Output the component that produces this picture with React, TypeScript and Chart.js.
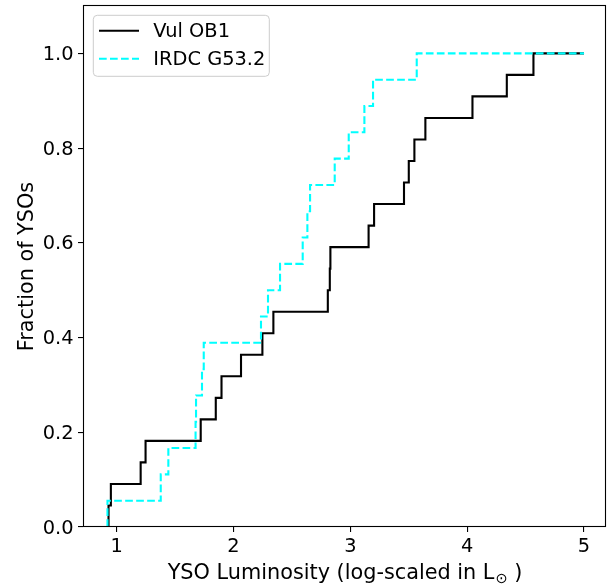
import React, { useEffect, useRef } from 'react';
import { Chart, registerables } from 'chart.js';

Chart.register(...registerables);

// Sorted YSO luminosities (log L/Lsun) for each region; each one adds a step of 1/N.
const VUL_OB1_LUM = [
  0.93, 0.95, 1.205, 1.247, 1.719, 1.848, 1.897, 2.064, 2.247, 2.341, 2.807,
  2.824, 2.829, 3.156, 3.203, 3.459, 3.5, 3.548, 3.642, 4.045, 4.339, 4.567,
];
const IRDC_G532_LUM = [
  0.921, 1.377, 1.442, 1.675, 1.679, 1.73, 1.745, 2.235, 2.295, 2.398, 2.592,
  2.632, 2.655, 2.866, 2.986, 3.12, 3.194, 3.568,
];
const X_END = 5;
const X_TICKS = [1, 2, 3, 4, 5];
const Y_TICKS = [0, 0.2, 0.4, 0.6, 0.8, 1.0];
const SERIES_LABELS = ['Vul OB1', 'IRDC G53.2'];
const SERIES_COLORS = ['#000000', '#00ffff'];

const FAMILY = '"DejaVu Sans", sans-serif';
const FS = 19.4;
const TITLE_FS = 20.8;
const LW = 2.1;
const DASH = [7.7, 3.3];

// Empirical cumulative distribution as step vertices.
function cdfPoints(values: number[], end: number) {
  const n = values.length;
  const pts: { x: number; y: number }[] = [{ x: values[0], y: 0 }];
  values.forEach((v, i) => pts.push({ x: v, y: (i + 1) / n }));
  pts.push({ x: end, y: 1 });
  return pts;
}

function zeroPadding(scale: any) {
  scale.paddingTop = 0;
  scale.paddingBottom = 0;
  scale.paddingLeft = 0;
  scale.paddingRight = 0;
}

const decorations = {
  id: 'decorations',
  afterDraw(chart: any) {
    const { ctx, chartArea: a } = chart;
    ctx.save();

    // full box frame
    ctx.strokeStyle = '#000';
    ctx.lineWidth = 1.1;
    ctx.setLineDash([]);
    ctx.strokeRect(a.left + 0.5, a.top - 0.5, a.right - a.left - 1, a.bottom - a.top);

    // y axis title
    ctx.fillStyle = '#000';
    ctx.font = `${TITLE_FS}px ${FAMILY}`;
    ctx.textAlign = 'center';
    ctx.textBaseline = 'alphabetic';
    ctx.save();
    ctx.translate(33, (a.top + a.bottom) / 2);
    ctx.rotate(-Math.PI / 2);
    ctx.fillText('Fraction of YSOs', 0, 0);
    ctx.restore();

    // x axis title with subscripted solar symbol
    const p1 = 'YSO Luminosity (log-scaled in L';
    const sub = '\u2299';
    const p3 = ' )';
    const subFont = `${TITLE_FS * 0.7}px ${FAMILY}`;
    const mainFont = `${TITLE_FS}px ${FAMILY}`;
    ctx.textAlign = 'left';
    ctx.font = mainFont;
    const w1 = ctx.measureText(p1).width;
    const w3 = ctx.measureText(p3).width;
    ctx.font = subFont;
    const w2 = ctx.measureText(sub).width;
    const base = 579;
    let x = (a.left + a.right) / 2 - (w1 + w2 + w3) / 2;
    ctx.font = mainFont;
    ctx.fillText(p1, x, base);
    x += w1;
    ctx.font = subFont;
    ctx.fillText(sub, x + 1, base + 4);
    x += w2 + 1;
    ctx.font = mainFont;
    ctx.fillText(p3, x, base);

    // legend box
    const bx = 93.3, by = 15.3, bw = 176, bh = 61, r = 4;
    ctx.beginPath();
    ctx.moveTo(bx + r, by);
    ctx.lineTo(bx + bw - r, by);
    ctx.arcTo(bx + bw, by, bx + bw, by + r, r);
    ctx.lineTo(bx + bw, by + bh - r);
    ctx.arcTo(bx + bw, by + bh, bx + bw - r, by + bh, r);
    ctx.lineTo(bx + r, by + bh);
    ctx.arcTo(bx, by + bh, bx, by + bh - r, r);
    ctx.lineTo(bx, by + r);
    ctx.arcTo(bx, by, bx + r, by, r);
    ctx.closePath();
    ctx.fillStyle = 'rgba(255,255,255,0.8)';
    ctx.fill();
    ctx.strokeStyle = '#cccccc';
    ctx.lineWidth = 1;
    ctx.stroke();

    const legendFont = `${FS}px ${FAMILY}`;
    const rows = [
      { label: SERIES_LABELS[0], color: SERIES_COLORS[0], dash: [] as number[], y: 30.7, base: 37 },
      { label: SERIES_LABELS[1], color: SERIES_COLORS[1], dash: DASH, y: 58.7, base: 64.7 },
    ];
    rows.forEach((row) => {
      ctx.beginPath();
      ctx.strokeStyle = row.color;
      ctx.lineWidth = LW;
      ctx.lineCap = 'butt';
      ctx.setLineDash(row.dash);
      ctx.moveTo(99, row.y);
      ctx.lineTo(139, row.y);
      ctx.stroke();
      ctx.setLineDash([]);
      ctx.fillStyle = '#000';
      ctx.font = legendFont;
      ctx.textAlign = 'left';
      ctx.fillText(row.label, 153.3, row.base);
    });

    ctx.restore();
  },
};

export default function App() {
  const canvasRef = useRef<HTMLCanvasElement | null>(null);

  useEffect(() => {
    if (!canvasRef.current) return;
    Chart.defaults.font.family = FAMILY;
    const chart = new Chart(canvasRef.current, {
      type: 'line',
      data: {
        datasets: [
          {
            label: SERIES_LABELS[0],
            data: cdfPoints(VUL_OB1_LUM, X_END),
            borderColor: SERIES_COLORS[0],
            borderWidth: LW,
            stepped: 'before',
            pointRadius: 0,
            fill: false,
            order: 1,
          },
          {
            label: SERIES_LABELS[1],
            data: cdfPoints(IRDC_G532_LUM, X_END),
            borderColor: SERIES_COLORS[1],
            borderWidth: LW,
            borderDash: DASH,
            borderCapStyle: 'butt',
            stepped: 'before',
            pointRadius: 0,
            fill: false,
            order: 0,
          },
        ],
      },
      options: {
        animation: false,
        responsive: false,
        devicePixelRatio: 1,
        layout: { padding: { top: 6, right: 8, left: 0, bottom: 0 } },
        plugins: {
          legend: { display: false },
          tooltip: { enabled: false },
        },
        scales: {
          x: {
            type: 'linear',
            min: 0.7115,
            max: 5.188,
            border: { display: false },
            grid: {
              drawOnChartArea: false,
              drawTicks: true,
              tickLength: 5,
              color: '#000',
              lineWidth: 1.1,
            },
            ticks: {
              color: '#000',
              font: { size: FS, family: FAMILY },
              padding: 3,
              autoSkip: false,
              maxRotation: 0,
              callback: (v: any) => String(v),
            },
            afterBuildTicks: (scale: any) => {
              scale.ticks = X_TICKS.map((v) => ({ value: v }));
            },
            afterFit: (scale: any) => {
              scale.height = 58;
              zeroPadding(scale);
            },
          },
          y: {
            type: 'linear',
            min: 0,
            max: 1.1,
            border: { display: false },
            grid: {
              drawOnChartArea: false,
              drawTicks: true,
              tickLength: 5,
              color: '#000',
              lineWidth: 1.1,
            },
            ticks: {
              color: '#000',
              font: { size: FS, family: FAMILY },
              padding: 4.5,
              autoSkip: false,
              labelOffset: 1.5,
              callback: (v: any) => Number(v).toFixed(1),
            },
            afterBuildTicks: (scale: any) => {
              scale.ticks = Y_TICKS.map((v) => ({ value: v }));
            },
            afterFit: (scale: any) => {
              scale.width = 83;
              zeroPadding(scale);
            },
          },
        },
      },
      plugins: [decorations],
    });
    return () => chart.destroy();
  }, []);

  return (
    <div style={{ position: 'fixed', left: 0, top: 0, width: 614, height: 585, background: '#fff' }}>
      <canvas ref={canvasRef} width={614} height={585} />
    </div>
  );
}
